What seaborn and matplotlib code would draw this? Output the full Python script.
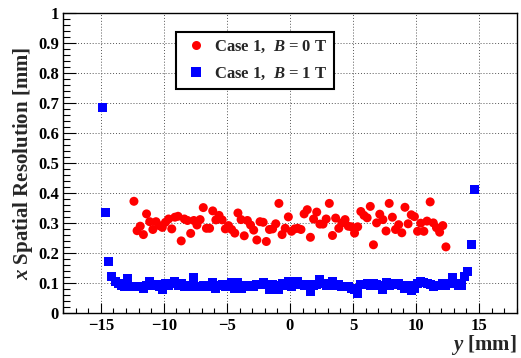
import numpy as np
import pandas as pd
import matplotlib
matplotlib.use('Agg')
import matplotlib.pyplot as plt
from matplotlib.ticker import MultipleLocator, FormatStrFormatter
import seaborn as sns

# --- data ---
# Case 1, B = 0 T (red circles): bin centres along y [mm] and resolution [mm]
y_b0 = [-12.375, -12.125, -11.875, -11.625, -11.375, -11.125, -10.875, -10.625, -10.375, -10.125,
        -9.875, -9.625, -9.375, -9.125, -8.875, -8.625, -8.375, -8.125, -7.875, -7.625,
        -7.375, -7.125, -6.875, -6.625, -6.375, -6.125, -5.875, -5.625, -5.375, -5.125,
        -4.875, -4.625, -4.375, -4.125, -3.875, -3.625, -3.375, -3.125, -2.875, -2.625,
        -2.375, -2.125, -1.875, -1.625, -1.375, -1.125, -0.875, -0.625, -0.375, -0.125,
        0.125, 0.375, 0.625, 0.875, 1.125, 1.375, 1.625, 1.875, 2.125, 2.375,
        2.625, 2.875, 3.125, 3.375, 3.625, 3.875, 4.125, 4.375, 4.625, 4.875,
        5.125, 5.375, 5.625, 5.875, 6.125, 6.375, 6.625, 6.875, 7.125, 7.375,
        7.625, 7.875, 8.125, 8.375, 8.625, 8.875, 9.125, 9.375, 9.625, 9.875,
        10.125, 10.375, 10.625, 10.875, 11.125, 11.375, 11.625, 11.875, 12.125, 12.375]
res_b0 = [0.372, 0.274, 0.289, 0.261, 0.330, 0.304, 0.278, 0.304, 0.291, 0.285,
          0.302, 0.313, 0.280, 0.319, 0.322, 0.240, 0.313, 0.308, 0.265, 0.308,
          0.293, 0.311, 0.351, 0.282, 0.282, 0.340, 0.310, 0.325, 0.310, 0.280,
          0.291, 0.278, 0.266, 0.333, 0.311, 0.257, 0.308, 0.293, 0.276, 0.243,
          0.304, 0.302, 0.238, 0.278, 0.280, 0.297, 0.365, 0.261, 0.282, 0.320,
          0.272, 0.280, 0.282, 0.278, 0.330, 0.344, 0.252, 0.313, 0.336, 0.296,
          0.296, 0.313, 0.365, 0.258, 0.316, 0.282, 0.300, 0.311, 0.289, 0.287,
          0.266, 0.287, 0.338, 0.325, 0.317, 0.355, 0.227, 0.300, 0.329, 0.311,
          0.273, 0.365, 0.319, 0.278, 0.294, 0.267, 0.352, 0.297, 0.327, 0.321,
          0.272, 0.299, 0.272, 0.306, 0.370, 0.300, 0.284, 0.269, 0.291, 0.220]

# Case 1, B = 1 T (blue squares)
y_b1 = [-14.875, -14.625, -14.375, -14.125, -13.875, -13.625, -13.375, -13.125, -12.875, -12.625,
        -12.375, -12.125, -11.875, -11.625, -11.375, -11.125, -10.875, -10.625, -10.375, -10.125,
        -9.875, -9.625, -9.375, -9.125, -8.875, -8.625, -8.375, -8.125, -7.875, -7.625,
        -7.375, -7.125, -6.875, -6.625, -6.375, -6.125, -5.875, -5.625, -5.375, -5.125,
        -4.875, -4.625, -4.375, -4.125, -3.875, -3.625, -3.375, -3.125, -2.875, -2.625,
        -2.375, -2.125, -1.875, -1.625, -1.375, -1.125, -0.875, -0.625, -0.375, -0.125,
        0.125, 0.375, 0.625, 0.875, 1.125, 1.375, 1.625, 1.875, 2.125, 2.375,
        2.625, 2.875, 3.125, 3.375, 3.625, 3.875, 4.125, 4.375, 4.625, 4.875,
        5.125, 5.375, 5.625, 5.875, 6.125, 6.375, 6.625, 6.875, 7.125, 7.375,
        7.625, 7.875, 8.125, 8.375, 8.625, 8.875, 9.125, 9.375, 9.625, 9.875,
        10.125, 10.375, 10.625, 10.875, 11.125, 11.375, 11.625, 11.875, 12.125, 12.375,
        12.625, 12.875, 13.125, 13.375, 13.625, 13.875, 14.125, 14.375, 14.625]
res_b1 = [0.684, 0.333, 0.171, 0.122, 0.106, 0.098, 0.091, 0.089, 0.116, 0.087,
          0.087, 0.089, 0.087, 0.080, 0.091, 0.106, 0.091, 0.094, 0.089, 0.078,
          0.098, 0.091, 0.098, 0.106, 0.091, 0.098, 0.087, 0.091, 0.087, 0.117,
          0.087, 0.087, 0.091, 0.087, 0.089, 0.100, 0.080, 0.091, 0.094, 0.087,
          0.091, 0.102, 0.080, 0.100, 0.080, 0.091, 0.089, 0.091, 0.087, 0.094,
          0.094, 0.100, 0.094, 0.078, 0.094, 0.091, 0.078, 0.098, 0.091, 0.106,
          0.089, 0.094, 0.106, 0.094, 0.091, 0.094, 0.072, 0.091, 0.094, 0.111,
          0.098, 0.091, 0.091, 0.106, 0.091, 0.094, 0.087, 0.087, 0.087, 0.080,
          0.078, 0.066, 0.094, 0.094, 0.098, 0.091, 0.098, 0.094, 0.091, 0.078,
          0.100, 0.091, 0.098, 0.094, 0.098, 0.091, 0.080, 0.091, 0.075, 0.080,
          0.098, 0.106, 0.102, 0.098, 0.094, 0.087, 0.091, 0.091, 0.098, 0.091,
          0.098, 0.117, 0.098, 0.091, 0.091, 0.122, 0.139, 0.227, 0.412]

labels = ['Case 1,  $B$ = 0 T', 'Case 1,  $B$ = 1 T']

df = pd.concat([
    pd.DataFrame({'y': y_b0, 'res': res_b0, 'case': labels[0]}),
    pd.DataFrame({'y': y_b1, 'res': res_b1, 'case': labels[1]}),
])

sns.set_style('ticks')
plt.rcParams['font.family'] = ['Liberation Serif', 'DejaVu Serif']
plt.rcParams['font.weight'] = 'bold'
plt.rcParams['mathtext.fontset'] = 'custom'
plt.rcParams['mathtext.it'] = 'Liberation Serif:italic:bold'
plt.rcParams['mathtext.rm'] = 'Liberation Serif:bold'
plt.rcParams['mathtext.bf'] = 'Liberation Serif:bold'

fig = plt.figure(figsize=(5.21, 3.58), dpi=100)
ax = fig.add_axes([0.121, 0.126, 0.871, 0.838])

sns.scatterplot(data=df, x='y', y='res', hue='case', style='case',
                palette={labels[0]: '#ff0000', labels[1]: '#0000ff'},
                markers={labels[0]: 'o', labels[1]: 's'},
                s=42, linewidth=0, ax=ax, zorder=3)

ax.set_xlim(-18, 18)
ax.set_ylim(0, 1)
ax.xaxis.set_major_locator(MultipleLocator(5))
ax.xaxis.set_minor_locator(MultipleLocator(1))
ax.yaxis.set_major_locator(MultipleLocator(0.1))
ax.yaxis.set_minor_locator(MultipleLocator(0.02))
ax.yaxis.set_major_formatter(FormatStrFormatter('%g'))

ax.tick_params(axis='both', which='both', direction='in', top=False, right=False,
               labelsize=12, colors='black', width=0.8)
ax.tick_params(axis='y', which='major', length=9, pad=3)
ax.tick_params(axis='y', which='minor', length=5)
ax.tick_params(axis='x', which='major', length=7, pad=4)
ax.tick_params(axis='x', which='minor', length=3.5)
for lab in ax.get_xticklabels() + ax.get_yticklabels():
    lab.set_fontweight('bold')

ax.grid(True, which='major', color='#555555', linestyle=(0, (1, 2)), linewidth=0.7)
for sp in ax.spines.values():
    sp.set_color('black')
    sp.set_linewidth(1.0)

ax.set_xlabel('$y$ [mm]', fontsize=15, fontweight='bold', loc='right', labelpad=-1)
ax.set_ylabel('$x$ Spatial Resolution [mm]', fontsize=15, fontweight='bold', labelpad=2)

leg = ax.legend(loc='upper left', bbox_to_anchor=(0.249, 0.937), borderaxespad=0,
                frameon=True, fancybox=False, framealpha=1, edgecolor='black',
                borderpad=0.4, handlelength=1.6, handletextpad=0.3, labelspacing=0.68,
                markerscale=1.0,
                prop={'family': 'Liberation Serif', 'weight': 'bold', 'size': 12})
leg.get_frame().set_linewidth(1.5)
leg.set_zorder(5)

fig.savefig('out.png', dpi=100)
